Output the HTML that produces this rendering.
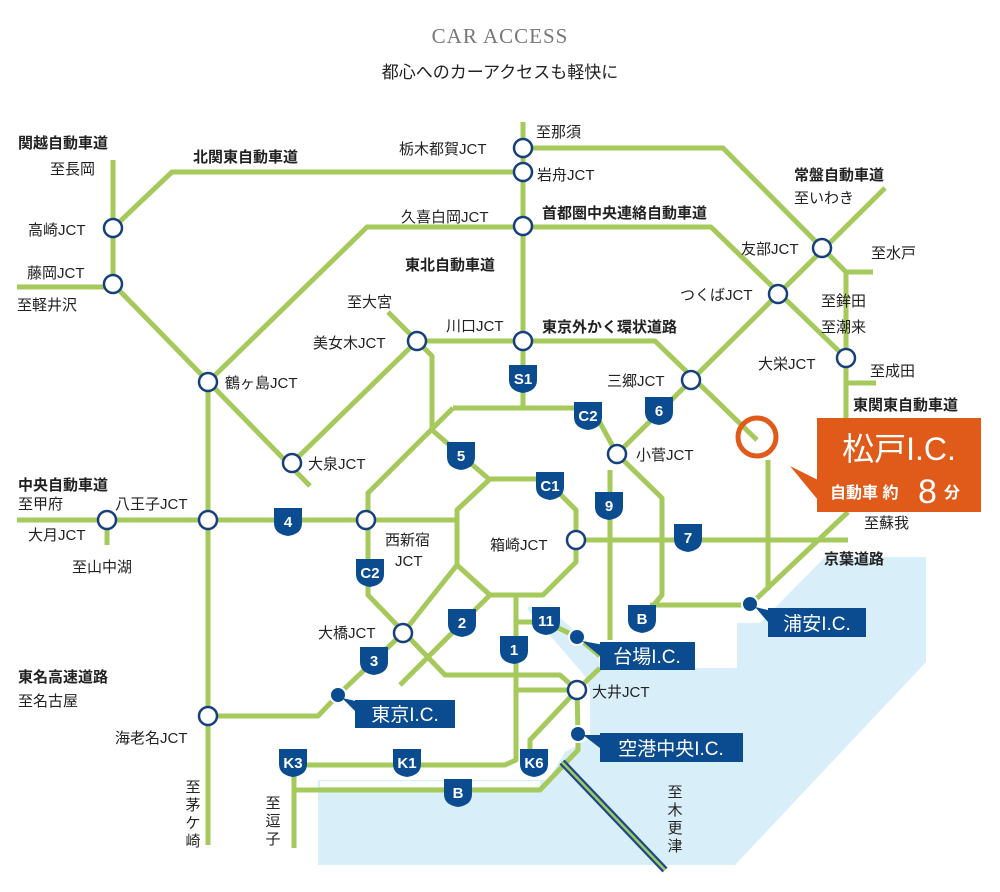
<!DOCTYPE html>
<html><head><meta charset="utf-8"><style>
html,body{margin:0;padding:0;background:#fff;}
svg{display:block;font-family:"Liberation Sans","Noto Sans CJK JP",sans-serif;}
.t{font-size:15px;fill:#222;}
.b{font-size:15px;fill:#222;font-weight:bold;}
.s{font-size:15px;fill:#fff;font-weight:bold;text-anchor:middle;}
.ic{font-size:19px;fill:#fff;}
</style></head><body>
<svg width="1000" height="892" viewBox="0 0 1000 892" xmlns="http://www.w3.org/2000/svg">
<defs>
<path id="sh" d="M-14,-13 h28 v15 q0,11 -14,13 q-14,-2 -14,-13 z" fill="#0b4c90"/>
</defs>
<text x="500" y="43" text-anchor="middle" style="font-family:'Liberation Serif',serif;font-size:21px;fill:#777;letter-spacing:1px">CAR ACCESS</text>
<text x="500" y="78" text-anchor="middle" style="font-size:17px;fill:#222">都心へのカーアクセスも軽快に</text>

<!-- water -->
<polygon fill="#d8eef9" points="318,780 548,780 565,752 590,738 590,690 585,676 528,610 528,607 548,607 598,652 600,668 737,668 737,623 760,623 825,557 926,557 926,662 735,865 318,865"/>
<g stroke="#fff" stroke-width="6" fill="none" opacity="0.9">
<line x1="320" y1="784" x2="540" y2="784"/>
</g>

<g stroke="#a6c95c" stroke-width="5" fill="none" stroke-linejoin="round">
<polyline points="113,160 113,287 17,287"/>
<polyline points="113,228 172,172 523,172"/>
<polyline points="523,122 523,407"/>
<polyline points="523,148 723,148 846,272 873,272"/>
<polyline points="846,272 846,420"/>
<polyline points="846,383 876,383"/>
<polyline points="885,188 617,454"/>
<polyline points="208,382 367,227 711,227 846,358"/>
<polyline points="417,341 655,341 757,440"/>
<polyline points="768,460 768,590"/>
<polyline points="388,312 417,341 292,463"/>
<polyline points="417,341 432,356 432,430 490,480"/>
<polyline points="113,284 310,486"/>
<polyline points="208,382 208,845"/>
<polyline points="17,520 457,520"/>
<polyline points="107,520 107,545"/>
<polygon points="490,479 545,479 576,510 576,562 543,595 490,595 457,565 457,510"/>
<polyline points="453,408 592,408 617,454"/>
<polyline points="453,408 368,493 368,595 445,675 560,675 577,690"/>
<polyline points="610,470 610,640"/>
<polyline points="617,454 662,498 662,595 643,618"/>
<polyline points="650,605 750,605"/>
<polyline points="576,540 848,540"/>
<polyline points="848,512 755,600"/>
<polyline points="490,595 400,685"/>
<polyline points="457,565 403,633 338,695 318,716 208,716"/>
<polyline points="516,595 516,760 505,765 294,765"/>
<polyline points="516,690 577,690"/>
<polyline points="516,622 546,622 577,637 600,656"/>
<polyline points="600,668 577,690 530,740 530,765"/>
<polyline points="577,690 578,734"/>
<polyline points="294,790 540,790 578,750 578,734"/>
<polyline points="294,760 294,848"/>
</g>
<line x1="562" y1="762" x2="665" y2="870" stroke="#1b4a8a" stroke-width="7"/>
<line x1="562" y1="762" x2="665" y2="870" stroke="#a6c95c" stroke-width="2.5"/>

<g fill="#fff" stroke="#163f7d" stroke-width="2.5">
<circle cx="113" cy="228" r="9"/><circle cx="113" cy="284" r="9"/>
<circle cx="523" cy="148" r="9"/><circle cx="523" cy="172" r="9"/>
<circle cx="523" cy="226" r="9"/><circle cx="523" cy="341" r="9"/>
<circle cx="822" cy="248" r="9"/><circle cx="778" cy="294" r="9"/>
<circle cx="846" cy="358" r="9"/><circle cx="691" cy="380" r="9"/>
<circle cx="617" cy="454" r="9"/><circle cx="417" cy="341" r="9"/>
<circle cx="208" cy="382" r="9"/><circle cx="292" cy="463" r="9"/>
<circle cx="107" cy="520" r="9"/><circle cx="208" cy="520" r="9"/>
<circle cx="366" cy="520" r="9"/><circle cx="576" cy="540" r="9"/>
<circle cx="403" cy="633" r="9"/><circle cx="577" cy="690" r="9"/>
<circle cx="208" cy="716" r="9"/>
</g>
<g fill="#0b4c90" stroke="#fff" stroke-width="2">
<circle cx="338" cy="695" r="8"/><circle cx="577" cy="637" r="8"/>
<circle cx="750" cy="604" r="8"/><circle cx="578" cy="734" r="8"/>
</g>
<circle cx="757" cy="437" r="19" fill="none" stroke="#e05a1a" stroke-width="5"/>
<polygon points="790,466 818,480 818,500" fill="#e05a1a"/>
<rect x="817" y="418" width="164" height="94" fill="#e05a1a"/>
<text x="899" y="460" text-anchor="middle" style="font-size:32px;fill:#fff">松戸I.C.</text>
<text x="830" y="498" style="font-size:16px;fill:#fff;font-weight:bold">自動車 約</text>
<text x="918" y="503" style="font-size:34px;fill:#fff">8</text>
<text x="944" y="498" style="font-size:16px;fill:#fff;font-weight:bold">分</text>

<g fill="#0b4c90">
<rect x="355" y="700" width="100" height="28"/><polygon points="342,698 360,702 356,712"/>
<rect x="600" y="642" width="95" height="28"/><polygon points="582,641 604,645 600,656"/>
<rect x="768" y="608" width="98" height="29"/><polygon points="755,607 772,611 768,622"/>
<rect x="600" y="733" width="143" height="29"/><polygon points="583,735 604,735 600,748"/>
</g>
<text x="405" y="721" text-anchor="middle" class="ic">東京I.C.</text>
<text x="647" y="663" text-anchor="middle" class="ic">台場I.C.</text>
<text x="817" y="630" text-anchor="middle" class="ic">浦安I.C.</text>
<text x="671" y="755" text-anchor="middle" class="ic">空港中央I.C.</text>

<g>
<use href="#sh" x="523" y="378"/><text x="523" y="384" class="s">S1</text>
<use href="#sh" x="588" y="415"/><text x="588" y="421" class="s">C2</text>
<use href="#sh" x="659" y="410"/><text x="659" y="416" class="s">6</text>
<use href="#sh" x="461" y="455"/><text x="461" y="461" class="s">5</text>
<use href="#sh" x="550" y="485"/><text x="550" y="491" class="s">C1</text>
<use href="#sh" x="609" y="505"/><text x="609" y="511" class="s">9</text>
<use href="#sh" x="688" y="537"/><text x="688" y="543" class="s">7</text>
<use href="#sh" x="288" y="521"/><text x="288" y="527" class="s">4</text>
<use href="#sh" x="370" y="572"/><text x="370" y="578" class="s">C2</text>
<use href="#sh" x="462" y="622"/><text x="462" y="628" class="s">2</text>
<use href="#sh" x="546" y="620"/><text x="546" y="626" class="s">11</text>
<use href="#sh" x="642" y="618"/><text x="642" y="624" class="s">B</text>
<use href="#sh" x="514" y="649"/><text x="514" y="655" class="s">1</text>
<use href="#sh" x="374" y="660"/><text x="374" y="666" class="s">3</text>
<use href="#sh" x="293" y="762"/><text x="293" y="768" class="s">K3</text>
<use href="#sh" x="407" y="762"/><text x="407" y="768" class="s">K1</text>
<use href="#sh" x="534" y="762"/><text x="534" y="768" class="s">K6</text>
<use href="#sh" x="458" y="792"/><text x="458" y="798" class="s">B</text>
</g>

<text x="18" y="148" class="b">関越自動車道</text>
<text x="50" y="174" class="t">至長岡</text>
<text x="193" y="162" class="b">北関東自動車道</text>
<text x="28" y="235" class="t">高崎JCT</text>
<text x="27" y="278" class="t">藤岡JCT</text>
<text x="17" y="310" class="t">至軽井沢</text>
<text x="399" y="154" class="t">栃木都賀JCT</text>
<text x="536" y="137" class="t">至那須</text>
<text x="537" y="180" class="t">岩舟JCT</text>
<text x="401" y="222" class="t">久喜白岡JCT</text>
<text x="542" y="218" class="b">首都圏中央連絡自動車道</text>
<text x="405" y="270" class="b">東北自動車道</text>
<text x="347" y="307" class="t">至大宮</text>
<text x="313" y="348" class="t">美女木JCT</text>
<text x="446" y="331" class="t">川口JCT</text>
<text x="542" y="332" class="b">東京外かく環状道路</text>
<text x="225" y="388" class="t">鶴ヶ島JCT</text>
<text x="308" y="469" class="t">大泉JCT</text>
<text x="794" y="180" class="b">常盤自動車道</text>
<text x="794" y="203" class="t">至いわき</text>
<text x="741" y="254" class="t">友部JCT</text>
<text x="871" y="258" class="t">至水戸</text>
<text x="680" y="300" class="t">つくばJCT</text>
<text x="821" y="306" class="t">至鉾田</text>
<text x="821" y="332" class="t">至潮来</text>
<text x="758" y="369" class="t">大栄JCT</text>
<text x="870" y="376" class="t">至成田</text>
<text x="853" y="410" class="b">東関東自動車道</text>
<text x="607" y="386" class="t">三郷JCT</text>
<text x="636" y="460" class="t">小菅JCT</text>
<text x="18" y="490" class="b">中央自動車道</text>
<text x="18" y="509" class="t">至甲府</text>
<text x="115" y="509" class="t">八王子JCT</text>
<text x="28" y="540" class="t">大月JCT</text>
<text x="72" y="572" class="t">至山中湖</text>
<text x="385" y="545" class="t">西新宿</text>
<text x="395" y="566" class="t">JCT</text>
<text x="490" y="550" class="t">箱崎JCT</text>
<text x="864" y="528" class="t">至蘇我</text>
<text x="824" y="564" class="b">京葉道路</text>
<text x="318" y="638" class="t">大橋JCT</text>
<text x="592" y="697" class="t">大井JCT</text>
<text x="18" y="682" class="b">東名高速道路</text>
<text x="18" y="706" class="t">至名古屋</text>
<text x="115" y="743" class="t">海老名JCT</text>
<g text-anchor="middle">
<text x="193" y="792" class="t">至</text><text x="193" y="810" class="t">茅</text><text x="193" y="828" class="t">ケ</text><text x="193" y="846" class="t">崎</text>
<text x="273" y="808" class="t">至</text><text x="273" y="826" class="t">逗</text><text x="273" y="844" class="t">子</text>
<text x="675" y="797" class="t">至</text><text x="675" y="815" class="t">木</text><text x="675" y="833" class="t">更</text><text x="675" y="851" class="t">津</text>
</g>
</svg>
</body></html>
